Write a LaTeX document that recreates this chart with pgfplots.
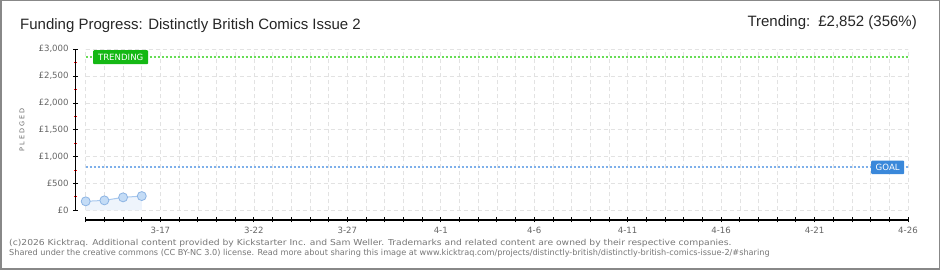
\documentclass[border=0pt]{standalone}
\usepackage{pgfplots}
\pgfplotsset{compat=1.18}
\usepackage{fontspec}
\setmainfont{DejaVu Sans}
\newfontfamily\titlefont{Liberation Sans}
\definecolor{trendline}{HTML}{66DD55}
\definecolor{trendbox}{HTML}{14B814}
\definecolor{goalline}{HTML}{7EB0EA}
\definecolor{goalbox}{HTML}{3A88DA}
\definecolor{mfill}{HTML}{C4DCF6}
\definecolor{mdraw}{HTML}{8CB4E4}
\definecolor{pline}{HTML}{A8C8EE}
\definecolor{parea}{HTML}{EEF4FC}
\definecolor{gridc}{HTML}{E2E2E2}
\definecolor{labc}{HTML}{666666}
\definecolor{footc}{HTML}{777777}
\definecolor{framec}{HTML}{888888}
\begin{document}
\begin{tikzpicture}
\path[use as bounding box] (0pt,0pt) rectangle (940pt,270pt);
\fill[white] (0pt,0pt) rectangle (940pt,270pt);
\draw[framec, line width=1.5pt] (0.75pt,0.75pt) rectangle (939.25pt,269.25pt);
\begin{axis}[
  at={(85.7pt,59.7pt)}, anchor=south west,
  scale only axis, width=822.3pt, height=161pt,
  xmin=0, xmax=44, ymin=0, ymax=3000,
  clip=false,
  axis x line*=bottom, axis y line*=left,
  axis x line shift=9.7pt, axis y line shift=10pt,
  x axis line style={-, black, line width=1pt},
  y axis line style={-, black, line width=1pt},
  xtick={0,...,44},
  xticklabels={,,,,3-17,,,,,3-22,,,,,3-27,,,,,4-1,,,,,4-6,,,,,4-11,,,,,4-16,,,,,4-21,,,,,4-26},
  ytick={0,500,...,3000},
  yticklabels={£0,£500,{£1,000},{£1,500},{£2,000},{£2,500},{£3,000}},
  minor ytick={250,750,...,2750},
  tick align=center,
  major tick length=5pt,
  minor tick length=3pt,
  every major tick/.append style={black, line width=0.8pt},
  every minor tick/.append style={red, line width=0.8pt},
  grid=major,
  major grid style={gridc, dash pattern=on 4pt off 3pt, line width=0.6pt},
  ticklabel style={font=\fontsize{8.6}{10}\selectfont, text=labc},
  xticklabel style={yshift=-1pt},
  yticklabel style={xshift=-1pt},
  /pgf/number format/assume math mode=true,
]
\addplot[fill=parea, draw=none] coordinates {(0,167) (1,185) (2,241) (3,265)} \closedcycle;
\addplot[pline, line width=1pt, mark=*, mark size=4.5pt, mark options={fill=mfill, draw=mdraw, line width=0.8pt}]
  coordinates {(0,167) (1,185) (2,241) (3,265)};
\addplot[trendline, line width=2pt, dash pattern=on 2.5pt off 1.5pt] coordinates {(0,2852) (44,2852)};
\addplot[goalline, line width=2pt, dash pattern=on 2.5pt off 1.5pt] coordinates {(0,800) (44,800)};
\node[fill=trendbox, text=white, anchor=west, font=\fontsize{8.6}{10}\selectfont, minimum height=14pt, minimum width=55pt, inner xsep=2pt, inner ysep=0pt, rounded corners=1pt] at (axis cs:0.39,2852) {TRENDING};
\node[fill=goalbox, text=white, anchor=west, font=\fontsize{8.6}{10}\selectfont, minimum height=13.5pt, minimum width=33pt, inner xsep=2pt, inner ysep=0pt, rounded corners=1pt] at (axis cs:42.02,800) {GOAL};
\end{axis}
% detached axis lines
\fill[black] (85.7pt,49.4pt) rectangle (908pt,50.6pt);
\fill[black] (75.1pt,59.2pt) rectangle (76.3pt,221.2pt);
\node[anchor=base west, inner sep=0pt, text=black!85] at (20pt,240pt) {\titlefont\fontsize{15}{18}\selectfont Funding Progress: Distinctly British Comics Issue 2};
\node[anchor=base east, inner sep=0pt, text=black!85] at (917pt,243.3pt) {\titlefont\fontsize{15}{18}\selectfont Trending: \,£2,852 (356\%)};
\node[rotate=90, text=labc, inner sep=0pt] at (22pt,140.3pt) {\fontsize{6.5}{8}\selectfont P\hspace{2pt}L\hspace{2pt}E\hspace{2pt}D\hspace{2pt}G\hspace{2pt}E\hspace{2pt}D};
\node[anchor=base west, inner sep=0pt, text=footc] at (9pt,24.5pt) {\scalebox{1.12}[1]{\fontsize{8.2}{10}\selectfont (c)2026 Kicktraq. Additional content provided by Kickstarter Inc. and Sam Weller. Trademarks and related content are owned by their respective companies.}};
\node[anchor=base west, inner sep=0pt, text=footc] at (9pt,14.5pt) {\scalebox{0.994}[1]{\fontsize{8.2}{10}\selectfont Shared under the creative commons (CC BY-NC 3.0) license. Read more about sharing this image at www.kicktraq.com/projects/distinctly-british/distinctly-british-comics-issue-2/\#sharing}};
\end{tikzpicture}
\end{document}
